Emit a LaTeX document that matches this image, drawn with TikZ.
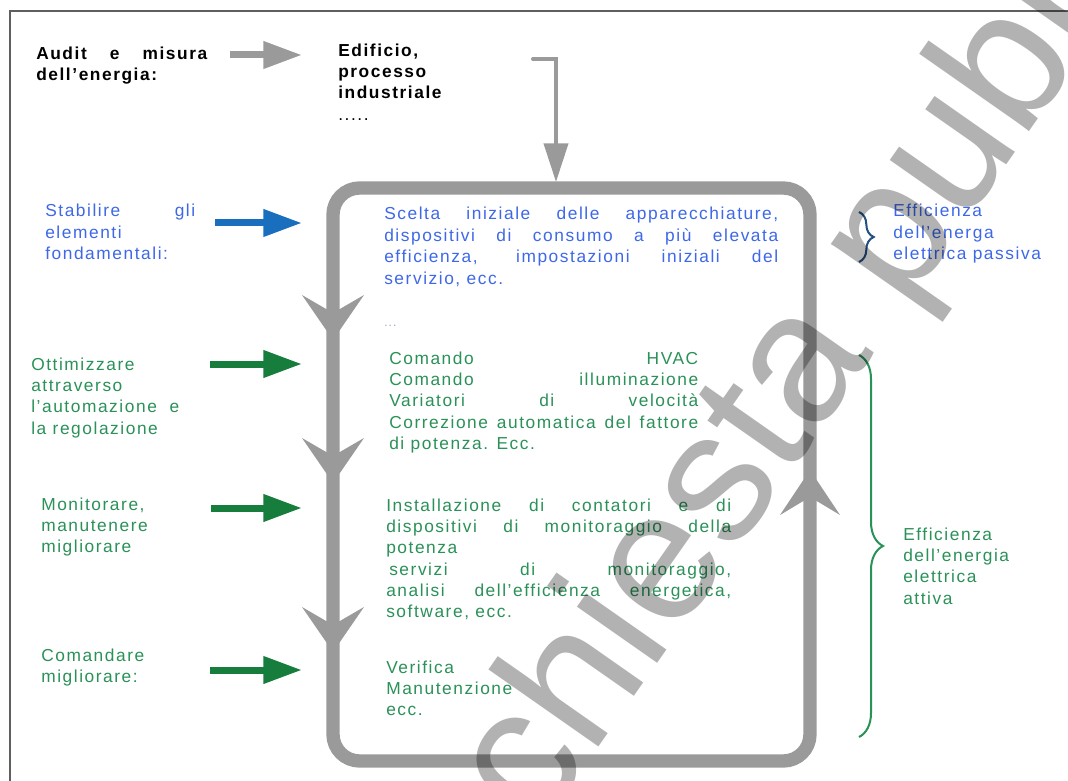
\documentclass[tikz,border=0pt]{standalone}
\usepackage{fontspec}
\setmainfont{Liberation Sans}[LetterSpace=9]
\newfontfamily\wmfont{Liberation Sans}
\usetikzlibrary{arrows.meta,decorations.pathreplacing}
\newdimen\pxu \pxu=0.75pt
\newcommand\J[2]{\makebox[#1\pxu][s]{#2}}
\newcommand\blk[1]{\begin{tabular}[t]{@{}l@{}}#1\end{tabular}}
\definecolor{tblue}{RGB}{62,104,232}
\definecolor{tgreen}{RGB}{42,145,88}
\definecolor{agreen}{RGB}{22,125,60}
\definecolor{ablue}{RGB}{25,110,190}
\definecolor{loopc}{RGB}{154,154,154}
\definecolor{framec}{RGB}{95,95,95}
\definecolor{bbrace}{RGB}{35,80,130}
\begin{document}
\begin{tikzpicture}[x=0.75pt,y=-0.75pt,
  txt/.style={inner sep=0pt, anchor=base west, font=\fontsize{13}{16}\selectfont},
  bluetxt/.style={txt, text=tblue},
  greentxt/.style={txt, text=tgreen},
  boldtxt/.style={txt, font=\fontsize{13}{15.6}\selectfont\bfseries},
  sidearrow/.style={line width=5.25pt, -{Triangle[length=29pt,width=19.5pt]}},
  loophead/.style={fill=loopc},
  bracestyle/.style={decorate, line width=1.5pt}
]
\useasboundingbox (0,0) rectangle (1068,781);
\fill[white] (0,0) rectangle (1068,781);
% outer frame
\draw[framec, line width=1.5pt] (10,781) -- (10,11) -- (1068,11);

% main loop
\draw[loopc, line width=10pt, rounded corners=20pt] (333,188) rectangle (810,761);
\foreach \y in {340,483,652}
  \fill[loophead] (302,\y-45) -- (333,\y) -- (364,\y-45) -- (333,\y-27) -- cycle;
\fill[loophead] (780,515) -- (810,470) -- (840,515) -- (810,497) -- cycle;

% left labels
\node[boldtxt] (audit) at (36,60) {\blk{\J{171}{Audit e misura}\\dell’energia:}};
\node[boldtxt] (edif) at (338,57) {\blk{Edificio,\\processo\\industriale}};
\node[txt] (dots) at (338,121) {.....};
\node[bluetxt] (stab) at (45,217) {\blk{\J{150}{Stabilire gli}\\elementi\\fondamentali:}};
\node[greentxt] (ottim) at (31,370) {\blk{Ottimizzare\\attraverso\\l’automazione\ \ e\\la regolazione}};
\node[greentxt] (monit) at (41,510) {\blk{Monitorare,\\manutenere\\migliorare}};
\node[greentxt] (coman) at (41,661) {\blk{Comandare\\migliorare:}};

% centre texts
\node[bluetxt] (scelta) at (384,220) {\blk{\J{394}{Scelta iniziale delle apparecchiature,}\\
  \J{394}{dispositivi di consumo a più elevata}\\
  \J{394}{efficienza, impostazioni iniziali del}\\
  servizio, ecc.}};
\node[txt, text={rgb,255:red,150;green,165;blue,200}, font=\fontsize{9}{10}\selectfont] (ell) at (384,326) {...};
\node[greentxt] (hvac) at (389,364) {\blk{\J{309}{Comando HVAC}\\
  \J{309}{Comando illuminazione}\\
  \J{309}{Variatori di velocità}\\
  \J{309}{Correzione automatica del fattore}\\
  di potenza. Ecc.}};
\node[greentxt] (inst) at (386,511) {\blk{\J{345}{Installazione di contatori e di}\\
  \J{345}{dispositivi di monitoraggio della}\\
  potenza\\
  \hspace*{3\pxu}\J{342}{servizi di monitoraggio,}\\
  \J{345}{analisi dell’efficienza energetica,}\\
  software, ecc.}};
\node[greentxt] (verif) at (386,673) {\blk{Verifica\\Manutenzione\\ecc.}};

% right labels
\node[bluetxt] (effp) at (893,217) {\blk{Efficienza\\dell’energa\\elettrica passiva}};
\node[greentxt] (effa) at (903,540) {\blk{Efficienza\\dell’energia\\elettrica\\attiva}};

% braces
\draw[bracestyle, bbrace, decoration={brace, amplitude=11pt}] (859,212) -- (859,262);
\draw[bracestyle, tgreen, decoration={brace, amplitude=18pt}] (859,355) -- (859,737);

% arrows
\coordinate (a0s) at (230,55); \coordinate (a0e) at (302,55);
\draw[sidearrow, loopc] (a0s) -- (a0e);
\coordinate (a1s) at (215,223); \coordinate (a1e) at (302,223);
\draw[sidearrow, ablue] (a1s) -- (a1e);
\coordinate (a2s) at (210,364); \coordinate (a2e) at (302,364);
\draw[sidearrow, agreen] (a2s) -- (a2e);
\coordinate (a3s) at (211,508); \coordinate (a3e) at (302,508);
\draw[sidearrow, agreen] (a3s) -- (a3e);
\coordinate (a4s) at (210,670); \coordinate (a4e) at (302,670);
\draw[sidearrow, agreen] (a4s) -- (a4e);
% incoming arrow
\coordinate (ts) at (533,59); \coordinate (tb) at (556,59); \coordinate (te) at (556,182);
\draw[loopc, line width=3pt, line cap=round, -{Triangle[length=29pt,width=18pt]}] (ts) -- (tb) -- (te);

% watermark
\begin{scope}
\clip (0,0) rectangle (1068,781);
\node[rotate=55, anchor=base west, inner sep=0pt, text=black, text opacity=0.3,
  font=\wmfont\fontsize{139}{139}\selectfont] (wm) at (538,834) {chiesta pubbl};
\end{scope}
\end{tikzpicture}
\end{document}
